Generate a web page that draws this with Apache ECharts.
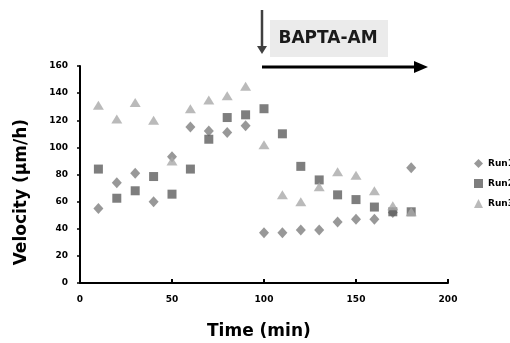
<!DOCTYPE html>
<html><head><meta charset="utf-8">
<script src="https://cdn.jsdelivr.net/npm/echarts@6/dist/echarts.min.js"></script>
<style>html,body{margin:0;padding:0;background:#fff}#c{width:510px;height:343px}</style>
</head><body><div id="c"></div>
<script>
const times = [10,20,30,40,50,60,70,80,90,100,110,120,130,140,150,160,170,180];
const run1 = [55,74,81,60,93,115,112,111,116,37,37,39,39,45,47,47,52,85];
const run2 = [84,62.5,68,78.5,65.5,84,106,122,124,128.5,110,86,76,65,61.5,56,52.5,52.5];
const run3 = [131,121,133,120,90,128.5,135,138,145,102,65,60,71,82,79.5,68,57,52.5];
const seriesNames = ['Run1','Run2','Run3'];
const yTicks = [0,20,40,60,80,100,120,140,160];
const xTicks = [0,50,100,150,200];

const pair = arr => times.map((t,i)=>[t,arr[i]]);
const chart = echarts.init(document.getElementById('c'));
const font = 'DejaVu Sans';
chart.setOption({
  animation:false,
  grid:{left:80,right:62,top:66,bottom:60},
  legend:{
    orient:'vertical', left:469, top:154, itemGap:11, itemWidth:9, itemHeight:9,
    textStyle:{fontFamily:font,fontWeight:'bold',fontSize:9,color:'#000',overflow:'none'},
    data:seriesNames
  },
  xAxis:{
    type:'value', min:0, max:200, interval:50,
    axisLine:{lineStyle:{color:'#000',width:2}},
    axisTick:{inside:true,length:4,lineStyle:{color:'#000',width:2}},
    splitLine:{show:false},
    axisLabel:{fontFamily:font,fontWeight:'bold',fontSize:9,color:'#000',margin:12,
      formatter:v=>xTicks.includes(v)?String(v):''}
  },
  yAxis:{
    type:'value', min:0, max:160, interval:20,
    axisLine:{show:true,lineStyle:{color:'#000',width:2}},
    axisTick:{show:true,length:3,lineStyle:{color:'#000',width:1.5}},
    splitLine:{show:false},
    axisLabel:{fontFamily:font,fontWeight:'bold',fontSize:9,color:'#000',margin:12,
      formatter:v=>yTicks.includes(v)?String(v):''}
  },
  series:[
    {name:'Run1',type:'scatter',symbol:'diamond',symbolSize:[10,11],itemStyle:{color:'#7e7e7e'},data:pair(run1)},
    {name:'Run2',type:'scatter',symbol:'rect',symbolSize:9,itemStyle:{color:'#5e5e5e'},data:pair(run2)},
    {name:'Run3',type:'scatter',symbol:'triangle',symbolSize:[11,9],itemStyle:{color:'#a9a9a9'},data:pair(run3)}
  ],
  graphic:[
    {type:'text',left:13,top:119,rotation:Math.PI/2,
      style:{text:'Velocity (µm/h)',font:'bold 17px '+font,fill:'#000'}},
    {type:'text',left:207,top:323,
      style:{text:'Time (min)',font:'bold 17px '+font,fill:'#000'}},
    {type:'rect',shape:{x:270,y:20,width:118,height:37},style:{fill:'#ebebeb'}},
    {type:'text',x:328,y:39,style:{text:'BAPTA-AM',font:'bold 17px '+font,fill:'#1a1a1a',align:'center',verticalAlign:'middle'}},
    {type:'line',shape:{x1:262,y1:10,x2:262,y2:48},style:{stroke:'#404040',lineWidth:2.5}},
    {type:'polygon',shape:{points:[[257,46],[267,46],[262,54]]},style:{fill:'#404040'}},
    {type:'line',shape:{x1:262,y1:67,x2:418,y2:67},style:{stroke:'#000',lineWidth:3}},
    {type:'polygon',shape:{points:[[414,61],[428,67],[414,73]]},style:{fill:'#000'}}
  ]
});
</script></body></html>
